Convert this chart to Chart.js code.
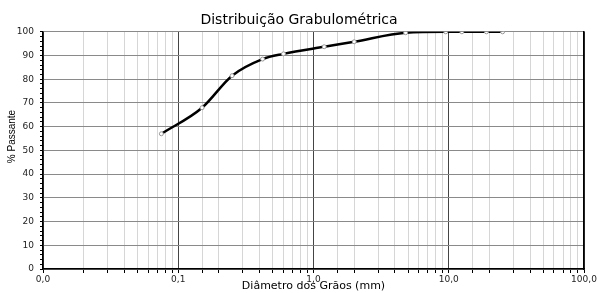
<!DOCTYPE html>
<html>
<head>
<meta charset="utf-8">
<script src="https://cdn.jsdelivr.net/npm/chart.js@4"></script>
<style>
  html, body { margin: 0; padding: 0; background: #fff; }
  #wrap { width: 598px; height: 293px; }
</style>
</head>
<body>
<div id="wrap"><canvas id="chart" width="598" height="293"></canvas></div>
<script>
// sieve diameters (mm) and percent passing
const diameters = [0.075, 0.15, 0.25, 0.42, 0.6, 1.2, 2.0, 4.8, 9.5, 12.5, 19, 25];
const passing = [57, 68, 81.5, 88.5, 90.7, 93.7, 95.8, 99.6, 100, 100, 100, 100];
const yTicksMajor = [0, 10, 20, 30, 40, 50, 60, 70, 80, 90, 100];

const isDecade = v => Math.abs(Math.log10(v) - Math.round(Math.log10(v))) < 1e-6;
const fmt = v => v.toFixed(1).replace('.', ',');

const points = diameters.map((d, i) => ({ x: d, y: passing[i] }));

new Chart(document.getElementById('chart'), {
  type: 'line',
  data: {
    datasets: [{
      data: points,
      borderColor: '#000',
      borderWidth: 2.5,
      cubicInterpolationMode: 'monotone',
      pointRadius: 2,
      pointBorderWidth: 1,
      pointBorderColor: '#999',
      pointBackgroundColor: '#fff'
    }]
  },
  options: {
    responsive: false,
    animation: false,
    layout: { padding: 0 },
    plugins: {
      legend: { display: false },
      tooltip: { enabled: false },
      title: {
        display: true,
        text: 'Distribuição Grabulométrica',
        color: '#000',
        font: { family: 'DejaVu Sans', size: 14, weight: 'normal' },
        padding: { top: 12, bottom: 3 }
      }
    },
    scales: {
      x: {
        type: 'logarithmic',
        min: 0.01,
        max: 100,
        border: { color: '#000', width: 1.5 },
        grid: {
          color: ctx => isDecade(ctx.tick.value) ? '#444' : '#d6d6d6',
          lineWidth: 1,
          tickLength: 4,
          tickColor: '#000'
        },
        ticks: {
          autoSkip: false,
          maxRotation: 0,
          padding: 1,
          color: '#222',
          font: { family: 'DejaVu Sans', size: 9 },
          callback: v => isDecade(v) ? fmt(v) : ''
        },
        title: {
          display: true,
          text: 'Diâmetro dos Grãos (mm)',
          color: '#000',
          padding: 0,
          font: { family: 'DejaVu Sans', size: 11 }
        },
        afterFit: s => { s.height = 24; }
      },
      y: {
        min: 0,
        max: 100,
        border: { color: '#000', width: 1.5 },
        grid: {
          color: ctx => ctx.tick.value % 10 === 0 ? '#8a8a8a' : 'rgba(0,0,0,0)',
          tickColor: '#000',
          tickLength: 3
        },
        ticks: {
          stepSize: 2,
          autoSkip: false,
          padding: 6,
          color: '#222',
          font: { family: 'DejaVu Sans', size: 9 },
          callback: v => yTicksMajor.includes(v) ? String(v) : ''
        },
        title: {
          display: true,
          // leading spaces move the rotated text up, as in the picture
          text: '          % Passante',
          color: '#000',
          padding: { top: 6, bottom: 0 },
          font: { family: 'Liberation Sans', size: 10 }
        },
        afterFit: s => { s.width = 43; }
      },
      y2: {
        position: 'right',
        min: 0,
        max: 100,
        border: { color: '#000', width: 1.5 },
        grid: { display: false, drawTicks: false },
        ticks: { display: false },
        afterFit: s => { s.width = 14; }
      }
    }
  }
});
</script>
</body>
</html>
